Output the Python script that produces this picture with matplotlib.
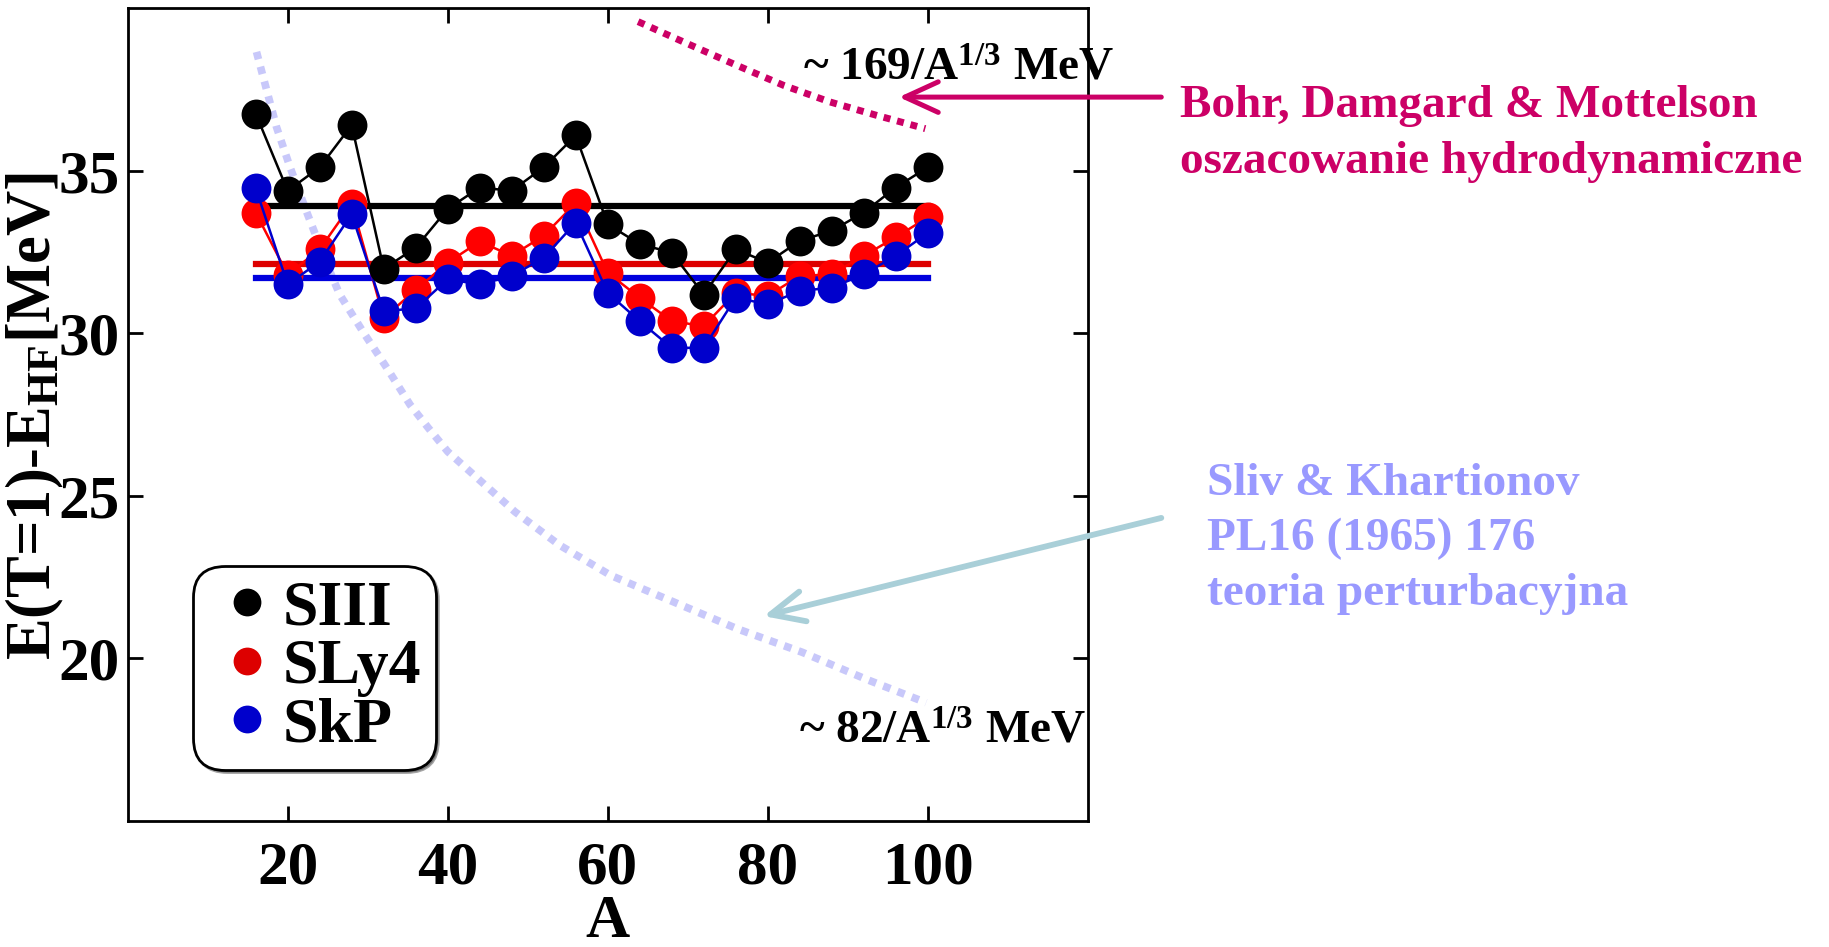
import matplotlib
matplotlib.use('Agg')
import matplotlib.pyplot as plt
from matplotlib.lines import Line2D

plt.rcParams['font.family'] = ['Liberation Serif', 'DejaVu Serif']
plt.rcParams['font.weight'] = 'bold'
plt.rcParams['axes.labelweight'] = 'bold'
plt.rcParams['mathtext.fontset'] = 'custom'
plt.rcParams['mathtext.rm'] = 'Liberation Serif:bold'
plt.rcParams['mathtext.bf'] = 'Liberation Serif:bold'
plt.rcParams['mathtext.it'] = 'Liberation Serif:bold:italic'

#%% ----------------------------------------------------------------
# dane: energia stanu T=1 wzgledem HF [MeV] dla trzech sil Skyrme'a

A = [16, 20, 24, 28, 32, 36, 40, 44, 48, 52, 56,
     60, 64, 68, 72, 76, 80, 84, 88, 92, 96, 100]

SIII = [36.75, 34.38, 35.10, 36.40, 31.98, 32.63, 33.82, 34.48, 34.38, 35.10, 36.08,
        33.35, 32.74, 32.48, 31.19, 32.58, 32.17, 32.84, 33.15, 33.71, 34.48, 35.10]
SLy4 = [33.71, 31.80, 32.58, 33.98, 30.47, 31.33, 32.17, 32.82, 32.38, 33.00, 34.00,
        31.86, 31.09, 30.37, 30.22, 31.24, 31.15, 31.76, 31.81, 32.38, 32.95, 33.56]
SkP = [34.46, 31.50, 32.20, 33.66, 30.68, 30.76, 31.66, 31.50, 31.76, 32.32, 33.40,
       31.24, 30.37, 29.55, 29.55, 31.09, 30.89, 31.30, 31.40, 31.81, 32.38, 33.08]

# srednie
avg_SIII = 33.92
avg_SLy4 = 32.12
avg_SkP = 31.71

# oszacowanie hydrodynamiczne (Bohr, Damgard & Mottelson)
bdm_A = [63.8, 69.9, 76.1, 82.0, 87.8, 93.6, 99.7]
bdm_E = [39.58, 38.91, 38.24, 37.62, 37.11, 36.70, 36.29]

# rachunek zaburzen (Sliv & Khartionov)
sk_A = [16.1, 18.6, 20.3, 22.4, 24.9, 26.5, 29.5, 32.4, 35.3, 37.6,
        40.0, 48.4, 54.0, 60.4, 68.3, 76.3, 84.3, 92.3, 99.8]
sk_E = [38.65, 36.34, 35.10, 33.71, 32.12, 31.19, 30.01, 28.93, 27.80, 27.08,
        26.36, 24.51, 23.48, 22.55, 21.73, 20.90, 20.19, 19.36, 18.64]

labels = ['SIII', 'SLy4', 'SkP']

#%% ----------------------------------------------------------------
W, H = 1829, 947
fig = plt.figure(figsize=(W / 100, H / 100), dpi=100)
ax = fig.add_axes([127.7 / W, 1 - 821 / H, 960 / W, 813 / H])

def fx(px):
    return px / W

def fy(py):
    return 1 - py / H

magenta = '#cc0066'
lavender = '#c8c8fa'

ax.plot(sk_A, sk_E, color=lavender, lw=5.5, ls=(0, (1, 1)), dash_capstyle='butt', zorder=1)
ax.plot(bdm_A, bdm_E, color=magenta, lw=5.0, ls=(0, (1, 1)), dash_capstyle='butt', zorder=1)

ax.plot([A[0], A[-1]], [avg_SIII, avg_SIII], color='black', lw=4.5, zorder=2)
ax.plot([A[0], A[-1]], [avg_SLy4, avg_SLy4], color='#dd0000', lw=4.5, zorder=2)
ax.plot([A[0], A[-1]], [avg_SkP, avg_SkP], color='#0000dd', lw=4.5, zorder=2)

mk = dict(marker='o', ms=21.5, mew=0, lw=1.8)
ax.plot(A, SLy4, color='#ff0000', zorder=3, **mk)
ax.plot(A, SkP, color='#0000cc', zorder=4, **mk)
ax.plot(A, SIII, color='black', zorder=5, **mk)

ax.set_xlim(0, 120)
ax.set_ylim(15, 40)
ax.set_xticks([20, 40, 60, 80, 100])
ax.set_yticks([20, 25, 30, 35])
ax.tick_params(direction='in', length=11, width=2, top=True, right=True, labelsize=44)
ax.tick_params(axis='x', pad=14)
ax.tick_params(axis='y', pad=6)
for s in ax.spines.values():
    s.set_linewidth(2)

ax.set_xlabel('A', size=44, fontweight='bold', labelpad=-2)
fig.text(fx(35), fy(416), r'E(T=1)-$\mathrm{E}_{\mathrm{HF}}$[MeV]', rotation=90,
         ha='center', va='center', size=45)

# legenda
handles = [Line2D([], [], ls='none', marker='o', ms=20, mew=0, color=c)
           for c in ['black', '#dd0000', '#0000cc']]
leg = ax.legend(handles, labels, loc='lower left', bbox_to_anchor=(0.068, 0.063),
                borderaxespad=0, prop={'family': 'Liberation Serif', 'weight': 'bold', 'size': 46},
                fancybox=True, shadow=True, framealpha=1, edgecolor='black',
                handlelength=1.25, handletextpad=-0.06, labelspacing=0.0, borderpad=0.22)
leg.get_frame().set_linewidth(2)
leg.get_frame().set_boxstyle('round,pad=0,rounding_size=0.5')

# podpisy krzywych
fig.text(fx(803), fy(80), r'~ 169/A$^{\mathrm{1/3}}$ MeV', size=34, va='baseline')
fig.text(fx(799), fy(743), r'~ 82/A$^{\mathrm{1/3}}$ MeV', size=34, va='baseline')

fig.text(fx(1180), fy(117), 'Bohr, Damgard & Mottelson', color=magenta, size=34, va='baseline')
fig.text(fx(1180), fy(173), 'oszacowanie hydrodynamiczne', color=magenta, size=34, va='baseline')

sliv = '#9999ff'
fig.text(fx(1207), fy(495), 'Sliv & Khartionov', color=sliv, size=34, va='baseline')
fig.text(fx(1207), fy(550), 'PL16 (1965) 176', color=sliv, size=34, va='baseline')
fig.text(fx(1207), fy(605), 'teoria perturbacyjna', color=sliv, size=34, va='baseline')

# strzalki
ax.annotate('', xy=(96.4, 37.26), xytext=(129.2, 37.26), annotation_clip=False,
            arrowprops=dict(arrowstyle='->,head_length=24,head_width=11', mutation_scale=1,
                            color=magenta, lw=3.6, shrinkA=0, shrinkB=0))
ax.annotate('', xy=(79.5, 21.3), xytext=(129.2, 24.32), annotation_clip=False,
            arrowprops=dict(arrowstyle='->,head_length=24,head_width=11', mutation_scale=1,
                            color='#a9cfd8', lw=4.2, shrinkA=0, shrinkB=0))

fig.savefig('out.png', dpi=100)
